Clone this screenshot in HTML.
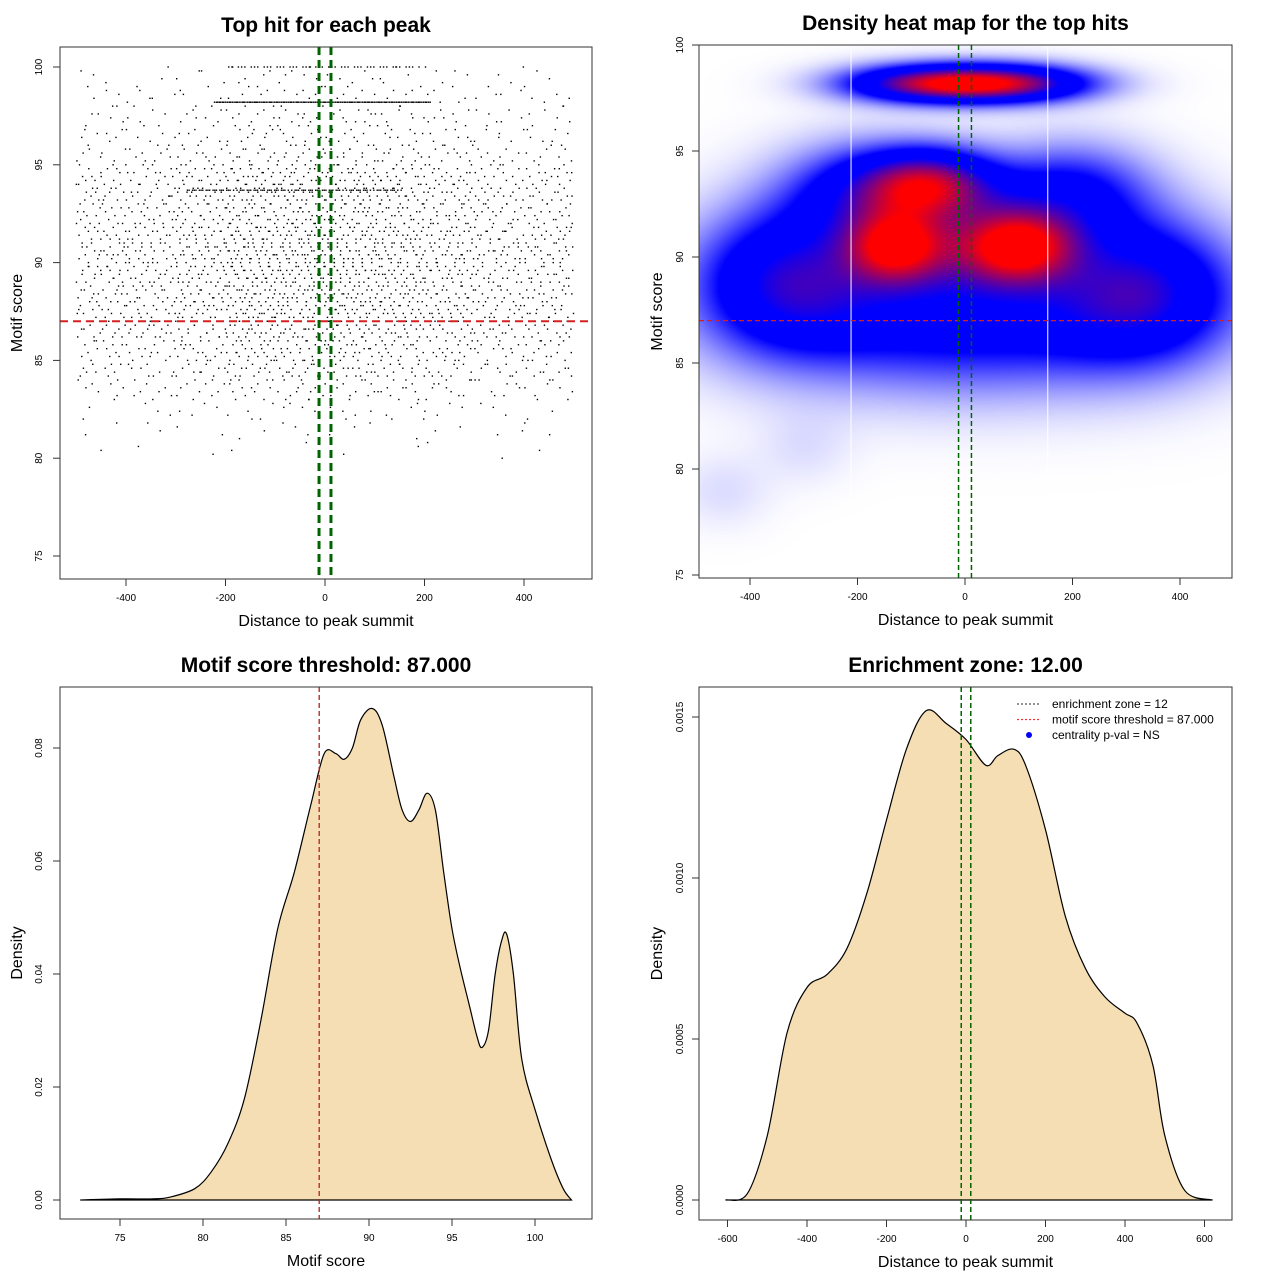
<!DOCTYPE html>
<html><head><meta charset="utf-8">
<style>
html,body{margin:0;padding:0;background:#fff;}
#wrap{position:relative;width:1280px;height:1280px;font-family:"Liberation Sans",sans-serif;}
#heat{position:absolute;left:699px;top:45px;}
#svg{position:absolute;left:0;top:0;}
</style></head>
<body>
<div id="wrap">
<canvas id="heat" width="533" height="533"></canvas>
<svg id="svg" width="1280" height="1280" xmlns="http://www.w3.org/2000/svg"></svg>
</div>
<script>
// ---------- data ----------
const scoreBins = [76,77,78,79,80,81,82,83,84,85,86,87,88,89,90,91,92,93,94,95,96,97,98,99];
const scoreCounts = [1,0,2,3,8,20,40,90,140,165,200,235,235,245,260,240,200,215,190,120,85,80,60,45];
const distBins = [-500,-400,-300,-200,-100,0,100,200,300,400];
const distWeights = [0.8,0.8,1.0,1.3,1.3,1.3,1.2,1.0,0.8,0.8];
const rowScores = [98.2, 100, 93.7];
const rowFrom = [-220, -200, -280];
const rowTo = [215, 215, 160];
const rowCounts = [160, 45, 90];

const blobX = [-70,80,-70,-130,100,0,-330,330,0,-200,200,-450,-300];
const blobY = [98.2,98.2,93.5,90.5,90.5,91,89,88.5,87,93,93,79,81];
const blobW = [0.62,0.62,0.6,0.58,0.62,0.3,0.45,0.45,0.35,0.3,0.3,0.04,0.035];
const blobSX = [110,110,85,65,75,120,120,120,250,100,100,60,60];
const blobSY = [0.6,0.6,1.1,1.2,1.2,2,2.3,2.3,2.3,1.6,1.6,1.2,1.2];
const gapLines = [-212, 154];

const scoreX = [72.6,75,77,78,79.5,80.5,81.5,82.5,83.5,84.5,85.5,86.5,87.3,88,88.5,89,89.5,90.2,90.8,91.5,92,92.5,93,93.5,94,94.5,95,95.5,96,96.5,96.8,97.2,97.6,98,98.3,98.7,99.2,100,101,101.7,102.2];
const scoreDens = [0,0.0002,0.0002,0.0005,0.002,0.005,0.010,0.018,0.032,0.048,0.058,0.070,0.079,0.079,0.078,0.080,0.085,0.087,0.084,0.075,0.069,0.067,0.069,0.072,0.069,0.058,0.048,0.041,0.035,0.029,0.027,0.030,0.040,0.046,0.047,0.040,0.025,0.016,0.007,0.002,0];
const distX = [-605,-550,-500,-450,-400,-350,-300,-250,-200,-150,-100,-50,0,50,80,120,150,200,250,300,350,400,430,470,500,550,620];
const distDens = [0,0.00002,0.0002,0.00052,0.00066,0.0007,0.00078,0.00095,0.00118,0.0014,0.00152,0.00148,0.00143,0.00135,0.00138,0.0014,0.00135,0.00115,0.00088,0.00072,0.00063,0.00058,0.00055,0.00042,0.0002,0.00003,0];

const threshold = 87;
const zone = 12;

// ---------- helpers ----------
const NS = "http://www.w3.org/2000/svg";
const svg = document.getElementById('svg');
function el(tag, attrs, parent, text){
  const e = document.createElementNS(NS, tag);
  for (const k in attrs) e.setAttribute(k, attrs[k]);
  if (text !== undefined) e.textContent = text;
  (parent || svg).appendChild(e);
  return e;
}
function halton(i,b){let f=1,r=0;while(i>0){f/=b;r+=f*(i%b);i=Math.floor(i/b);}return r;}
function smoothPath(px,py){
  let d='M'+px[0].toFixed(1)+','+py[0].toFixed(1);
  for(let i=0;i<px.length-1;i++){
    const i0=Math.max(0,i-1), i3=Math.min(px.length-1,i+2);
    const c1x=px[i]+(px[i+1]-px[i0])/6, c1y=py[i]+(py[i+1]-py[i0])/6;
    const c2x=px[i+1]-(px[i3]-px[i])/6, c2y=py[i+1]-(py[i3]-py[i])/6;
    d+=`C${c1x.toFixed(1)},${c1y.toFixed(1)} ${c2x.toFixed(1)},${c2y.toFixed(1)} ${px[i+1].toFixed(1)},${py[i+1].toFixed(1)}`;
  }
  return d;
}
function axes(g, box, sx, sy, xt, yt, xfmt, yfmt, title, xlab, ylab, ylabX, ytickX){
  el('rect',{x:box[0],y:box[1],width:box[2]-box[0],height:box[3]-box[1],fill:'none',stroke:'#333','stroke-width':1},g);
  const xa = el('g',{},g);
  
  
  xt.forEach(v=>{
    const x = sx(v);
    el('line',{x1:x,x2:x,y1:box[3],y2:box[3]+7,stroke:'#333'},xa);
    const t = el('text',{x:x,y:box[3]+22,'font-size':10,'text-anchor':'middle',fill:'#000'},xa,xfmt(v));
    
    
  });
  const ya = el('g',{},g);
  
  
  yt.forEach(v=>{
    const y = sy(v);
    el('line',{x1:box[0],x2:box[0]-7,y1:y,y2:y,stroke:'#333'},ya);
    const t = el('text',{x:ytickX,y:y,'font-size':10,'text-anchor':'middle',fill:'#000',transform:`rotate(-90 ${ytickX} ${y})`},ya,yfmt(v));
    
    
  });
  const cx = (box[0]+box[2])/2;
  const tt = el('text',{x:cx,y:box[1]-15,'font-size':21,'font-weight':'bold','text-anchor':'middle'},g,title);
  
  
  const xl = el('text',{x:cx,y:box[3]+47,'font-size':16,'text-anchor':'middle'},g,xlab);
  
  
  const cy = (box[1]+box[3])/2;
  const yl = el('text',{x:ylabX,y:cy,'font-size':16,'text-anchor':'middle',transform:`rotate(-90 ${ylabX} ${cy})`},g,ylab);
  
  
}
const f0 = v=>String(v);

// ---------- panel 1 ----------
(function(){
  const g = el('g',{});
  
  
  const box=[60,47,592,579];
  const sx=v=>325+v*0.4975, sy=v=>67+(100-v)*19.56;
  const pts = el('g',{fill:'#000'},g);
  
  
  const wsum = distWeights.reduce((a,b)=>a+b,0);
  let k=0;
  scoreBins.forEach((s,i)=>{
    distBins.forEach((d,j)=>{
      const n = Math.round(scoreCounts[i]*distWeights[j]/wsum);
      for(let m=0;m<n;m++){
        k++;
        const fx = halton(k,2), fy = halton(k,3);
        const yv = s + Math.round(fy*5)/5;
        const r = el('rect',{x:sx(d+fx*100)-0.7,y:sy(yv)-0.7,width:1.4,height:1.4},pts);
        
      }
    });
  });
  rowScores.forEach((s,i)=>{
    for(let m=0;m<rowCounts[i];m++){
      const d = rowFrom[i]+(rowTo[i]-rowFrom[i])*halton(m+1,2);
      const r = el('rect',{x:sx(d)-0.7,y:sy(s)-0.7,width:1.4,height:1.4},pts);
      
    }
  });
  const h = el('line',{x1:box[0],x2:box[2],y1:sy(threshold),y2:sy(threshold),stroke:'#d62020','stroke-width':2,'stroke-dasharray':'8,5'},g);
  
  
  [-zone,zone].forEach(z=>{
    const v = el('line',{x1:sx(z),x2:sx(z),y1:box[1],y2:box[3],stroke:'#006400','stroke-width':3,'stroke-dasharray':'8,5'},g);
    
    
  });
  axes(g,box,sx,sy,[-400,-200,0,200,400],[75,80,85,90,95,100],f0,f0,'Top hit for each peak','Distance to peak summit','Motif score',22,42);
})();

// ---------- panel 2 ----------
(function(){
  const box=[699,45,1232,578];
  const sx=v=>965+v*0.5375, sy=v=>45+(100-v)*21.2;
  const c = document.getElementById('heat'), ctx=c.getContext('2d');
  const W=533,H=533, img=ctx.createImageData(W,H);
  for(let py=0;py<H;py++){
    const yv = 100-py/21.2;
    for(let px=0;px<W;px++){
      const xv=(px+699-965)/0.5375;
      let d=0;
      for(let b=0;b<blobX.length;b++){
        const dx=(xv-blobX[b])/blobSX[b], dy=(yv-blobY[b])/blobSY[b];
        d+=blobW[b]*Math.exp(-0.5*(dx*dx+dy*dy));
      }
      let r,gg,bb;
      if(d<0.3){const t=d/0.3; r=255*(1-t); gg=255*(1-t); bb=255;}
      else if(d<0.48){r=0;gg=0;bb=255;}
      else {const t=Math.min(1,(d-0.48)/0.4); r=255*t; gg=0; bb=255*(1-t);}
      const o=(py*W+px)*4; img.data[o]=r;img.data[o+1]=gg;img.data[o+2]=bb;img.data[o+3]=255;
    }
  }
  ctx.putImageData(img,0,0);
  const g = el('g',{});
  
  
  gapLines.forEach(v=>{
    const l=el('line',{x1:sx(v),x2:sx(v),y1:box[1],y2:box[3],stroke:'#fff','stroke-width':1},g);
    
  });
  const h = el('line',{x1:box[0],x2:box[2],y1:sy(threshold),y2:sy(threshold),stroke:'#d62020','stroke-width':1.3,'stroke-dasharray':'5,3'},g);
  
  
  [-zone,zone].forEach(z=>{
    const v = el('line',{x1:sx(z),x2:sx(z),y1:box[1],y2:box[3],stroke:'#006400','stroke-width':1.5,'stroke-dasharray':'5,3'},g);
    
    
  });
  axes(g,box,sx,sy,[-400,-200,0,200,400],[75,80,85,90,95,100],f0,f0,'Density heat map for the top hits','Distance to peak summit','Motif score',662,683);
})();

// ---------- panel 3 ----------
(function(){
  const g = el('g',{});
  
  
  const box=[60,687,592,1219];
  const sx=v=>120+(v-75)*16.6, sy=v=>1200-v*5650;
  const d = smoothPath(scoreX.map(sx), scoreDens.map(sy));
  const a = el('path',{d:d+'Z',fill:'#f5deb3',stroke:'#000','stroke-width':1.2},g);
  
  
  const v = el('line',{x1:sx(threshold),x2:sx(threshold),y1:box[1],y2:box[3],stroke:'#b22222','stroke-width':1.3,'stroke-dasharray':'5,3'},g);
  
  
  axes(g,box,sx,sy,[75,80,85,90,95,100],[0,0.02,0.04,0.06,0.08],f0,v=>v.toFixed(2),'Motif score threshold: 87.000','Motif score','Density',22,42);
})();

// ---------- panel 4 ----------
(function(){
  const g = el('g',{});
  
  
  const box=[699,687,1232,1220];
  const sx=v=>966+v*0.3975, sy=v=>1200-v*322000;
  const d = smoothPath(distX.map(sx), distDens.map(sy));
  const a = el('path',{d:d+'Z',fill:'#f5deb3',stroke:'#000','stroke-width':1.2},g);
  
  
  [-zone,zone].forEach(z=>{
    const v = el('line',{x1:sx(z),x2:sx(z),y1:box[1],y2:box[3],stroke:'#006400','stroke-width':1.5,'stroke-dasharray':'5,3'},g);
    
    
  });
  axes(g,box,sx,sy,[-600,-400,-200,0,200,400,600],[0,0.0005,0.001,0.0015],f0,v=>v.toFixed(4),'Enrichment zone: 12.00','Distance to peak summit','Density',662,683);
  const lg = el('g',{},g);
  
  
  const items=[['enrichment zone = 12','#555','line'],['motif score threshold = 87.000','#ff3030','line'],['centrality p-val = NS','#0000ff','dot']];
  items.forEach((it,i)=>{
    const y=704+i*15.5;
    const e = el('g',{},lg);
    
    
    if(it[2]==='line') el('line',{x1:1017,x2:1041,y1:y,y2:y,stroke:it[1],'stroke-width':1.2,'stroke-dasharray':'2,2'},e);
    else el('circle',{cx:1029,cy:y,r:3,fill:it[1]},e);
    el('text',{x:1052,y:y+4,'font-size':12},e,it[0]);
  });
})();
</script>
</body></html>
